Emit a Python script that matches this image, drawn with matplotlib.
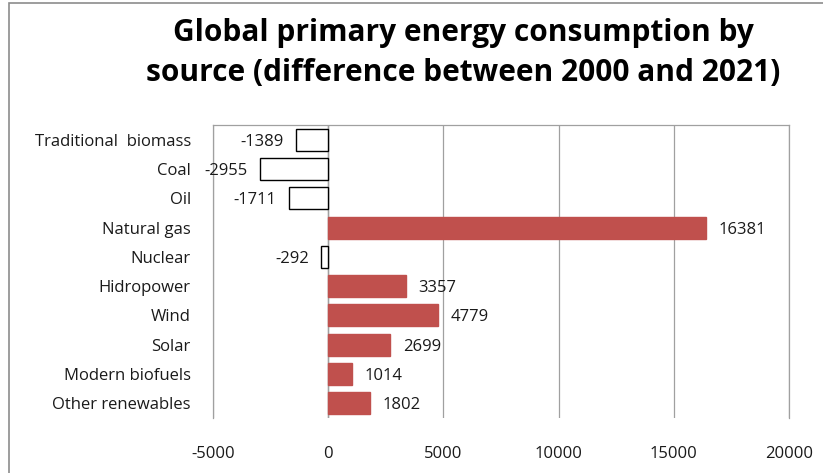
import matplotlib.pyplot as plt
from matplotlib.patches import Rectangle

plt.rcParams['font.family'] = ['Open Sans', 'DejaVu Sans']

sources = ['Traditional  biomass', 'Coal', 'Oil', 'Natural gas', 'Nuclear',
           'Hidropower', 'Wind', 'Solar', 'Modern biofuels', 'Other renewables']
change = [-1389, -2955, -1711, 16381, -292, 3357, 4779, 2699, 1014, 1802]
xticks = [-5000, 0, 5000, 10000, 15000, 20000]

red = '#C0504D'
grid = '#a0a0a0'
txt = '#1a1a1a'

fig = plt.figure(figsize=(8.23, 4.73), dpi=100)
# outer chart border (right/bottom edges fall outside the picture)
fig.patches.append(Rectangle((9 / 823, -0.1), 1.2, 1.1 - 3 / 473, transform=fig.transFigure,
                             fill=False, edgecolor='#8c8c8c', linewidth=1.2))

ax = fig.add_axes([213 / 823, 1 - 418 / 473, 576 / 823, 293 / 473])

colors = ['white' if v < 0 else red for v in change]
edges = ['black' if v < 0 else red for v in change]
bars = ax.barh(range(len(sources)), change, height=0.75, color=colors,
               edgecolor=edges, linewidth=1.0, zorder=3)

for i, v in enumerate(change):
    off = 9 if v >= 0 else -9
    ax.annotate(str(v), (v, i), xytext=(off, 0), textcoords='offset points',
                ha='left' if v >= 0 else 'right', va='center_baseline',
                fontsize=12, color=txt, zorder=4)

ax.set_xlim(-5000, 20000)
ax.set_ylim(len(sources) - 0.5, -0.5)
ax.set_yticks(range(len(sources)))
ax.set_yticklabels(sources, fontsize=12, color=txt)
ax.set_xticks(xticks)
ax.set_xticklabels([str(t) for t in xticks], fontsize=12, color=txt)
ax.tick_params(axis='x', length=0, pad=20)
ax.tick_params(axis='y', length=0, pad=16)

ax.grid(axis='x', color=grid, linewidth=0.9, zorder=0)
ax.axvline(0, color=grid, linewidth=1.0, zorder=2)
for s in ['left', 'top', 'right']:
    ax.spines[s].set_color(grid)
    ax.spines[s].set_linewidth(0.9)
ax.spines['bottom'].set_visible(False)

fig.text(463 / 823, 1 - 53 / 473,
         'Global primary energy consumption by\nsource (difference between 2000 and 2021)',
         ha='center', va='center', fontsize=21.5, fontweight='bold', color='black',
         linespacing=1.45)

fig.savefig('out.png', dpi=100)
